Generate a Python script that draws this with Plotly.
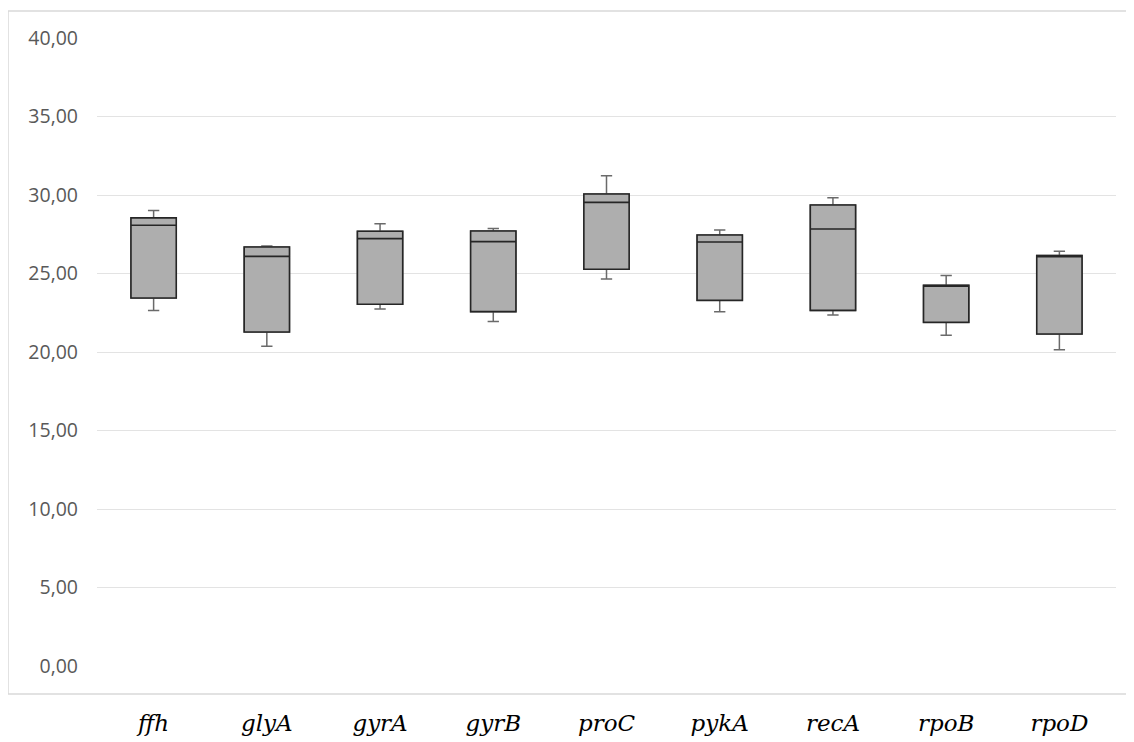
import plotly.graph_objects as go

genes = ["ffh", "glyA", "gyrA", "gyrB", "proC", "pykA", "recA", "rpoB", "rpoD"]
lower = [22.65, 20.36, 22.74, 21.95, 24.65, 22.57, 22.36, 21.06, 20.15]
q1 = [23.44, 21.27, 23.04, 22.57, 25.27, 23.29, 22.65, 21.89, 21.15]
median = [28.07, 26.09, 27.22, 27.03, 29.53, 27.01, 27.83, 24.22, 26.10]
q3 = [28.54, 26.69, 27.69, 27.71, 30.06, 27.45, 29.36, 24.25, 26.14]
upper = [29.02, 26.75, 28.17, 27.86, 31.23, 27.77, 29.83, 24.88, 26.41]
y_ticks = [0, 5, 10, 15, 20, 25, 30, 35, 40]

# page pixels; the HTML body adds an 8px offset
OFF = 8
W, H = 1134 - OFF, 742 - OFF
L, R, T, B = 97 - OFF, 1116 - OFF, 38 - OFF, 666 - OFF
FRAME = (8 - OFF, 11 - OFF, 1132 - OFF, 694 - OFF)

fig = go.Figure()
# whiskers (gray)
fig.add_trace(go.Box(
    x=genes, q1=q1, median=median, q3=q3, lowerfence=lower, upperfence=upper,
    width=0.4, whiskerwidth=0.25, fillcolor="#AEAEAE",
    line=dict(color="#6A6A6A", width=1.5), boxpoints=False, hoverinfo="skip",
    showlegend=False,
))
# box outline (dark)
fig.add_trace(go.Box(
    x=genes, q1=q1, median=median, q3=q3, lowerfence=q1, upperfence=q3,
    width=0.4, whiskerwidth=0, fillcolor="#AEAEAE",
    line=dict(color="#262626", width=1.6), boxpoints=False, hoverinfo="skip",
    showlegend=False,
))

def px_x(p):
    return (p - L) / (R - L)

def px_y(p):
    return (B - p) / (B - T)

fig.add_shape(type="rect", xref="paper", yref="paper",
              x0=px_x(FRAME[0]), x1=px_x(FRAME[2]),
              y0=px_y(FRAME[3]), y1=px_y(FRAME[1]),
              line=dict(color="#D9D9D9", width=1.5), fillcolor="rgba(0,0,0,0)",
              layer="below")

fig.update_layout(
    width=W, height=H,
    margin=dict(l=L, r=W - R, t=T, b=H - B, pad=0),
    paper_bgcolor="white", plot_bgcolor="white",
    separators=", ",
    boxmode="overlay",
    showlegend=False,
    xaxis=dict(
        type="category", categoryorder="array", categoryarray=genes,
        range=[-0.5, len(genes) - 0.5], automargin=False,
        showgrid=False, showline=False, zeroline=False, ticks="",
        tickfont=dict(family="DejaVu Serif", size=23, color="#000000", style="italic"),
        ticklabelstandoff=41,
    ),
    yaxis=dict(
        range=[0, 40], tickvals=y_ticks, tickformat=".2f", automargin=False,
        showgrid=True, gridcolor="#E3E3E3", gridwidth=1.2,
        zeroline=False, showline=False, ticks="",
        tickfont=dict(family="Open Sans", size=19.5, color="#595959"),
        ticklabelstandoff=18,
    ),
)

fig.write_html("out.html")
